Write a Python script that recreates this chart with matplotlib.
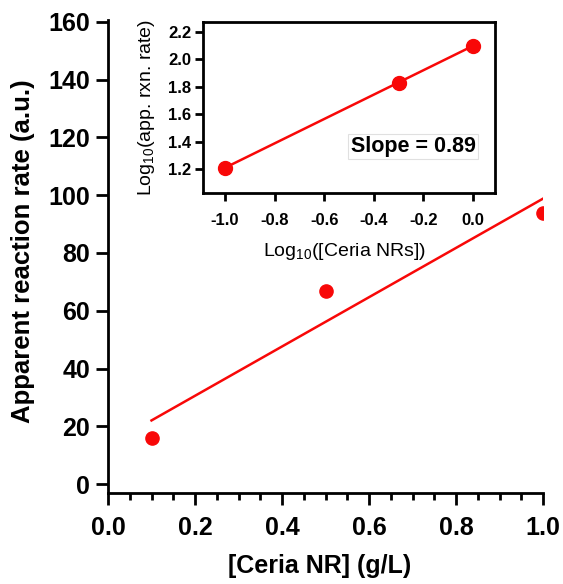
import numpy as np
import matplotlib
matplotlib.use('Agg')
import matplotlib.pyplot as plt
from matplotlib.ticker import MultipleLocator

plt.rcParams['font.family'] = ['Liberation Sans', 'DejaVu Sans']
plt.rcParams['mathtext.fontset'] = 'custom'
plt.rcParams['mathtext.rm'] = 'Liberation Sans'
plt.rcParams['mathtext.it'] = 'Liberation Sans:italic'
plt.rcParams['mathtext.bf'] = 'Liberation Sans:bold'

# Dados do gráfico principal
concentracao = [0.1, 0.5, 1.0]
taxa = [16, 67, 94]

# Dados do gráfico interno (log10)
log_conc = [-1.0, -0.30, 0.0]
log_taxa = [1.21, 1.83, 2.10]
texto_slope = 'Slope = 0.89'

VERMELHO = '#f80808'

fig = plt.figure(figsize=(5.63, 5.84), dpi=100)

# Gráfico principal
ax = fig.add_axes([108 / 563, 1 - 493 / 584, 435 / 563, 472.5 / 584])
ax.plot(concentracao, taxa, 'o', color=VERMELHO, markersize=9.5, zorder=3)
coef = np.polyfit(concentracao, taxa, 1)
xs = np.array([concentracao[0], concentracao[-1]])
ax.plot(xs, np.polyval(coef, xs), color=VERMELHO, lw=1.8)

ax.xaxis.set_minor_locator(MultipleLocator(0.05))
ax.spines['top'].set_visible(False)
ax.spines['right'].set_visible(False)
for s in ['left', 'bottom']:
    ax.spines[s].set_linewidth(2)
ax.tick_params(axis='both', which='major', direction='out', length=8.5, width=2,
               labelsize=18)
ax.tick_params(axis='x', which='major', pad=8)
ax.tick_params(axis='y', which='major', pad=4.5)
ax.tick_params(axis='x', which='minor', direction='out', length=5, width=2)
ax.set_xticks(np.arange(0, 1.01, 0.2))
ax.set_yticks(np.arange(0, 161, 20))
ax.set_xticklabels([f'{v:.1f}' for v in ax.get_xticks()], fontweight='bold')
ax.set_yticklabels([f'{v:.0f}' for v in ax.get_yticks()], fontweight='bold')
ax.set_xlim(0, 1.0)
ax.set_ylim(-3.1, 160.5)

ax.set_xlabel('[Ceria NR] (g/L)', fontsize=18, fontweight='bold')
ax.set_ylabel('Apparent reaction rate (a.u.)', fontsize=18.5, fontweight='bold')
ax.xaxis.label.set_va('center')
ax.yaxis.label.set_va('center')
ax.xaxis.set_label_coords(0.486, -0.155)
ax.yaxis.set_label_coords(-0.195, 0.512)

# Gráfico interno
ins = fig.add_axes([203 / 563, 1 - 193 / 584, 292 / 563, 171 / 584])
coef_log = np.polyfit(log_conc, log_taxa, 1)
xl = np.array([log_conc[0], log_conc[-1]])
ins.plot(xl, np.polyval(coef_log, xl), color=VERMELHO, lw=1.8)
ins.plot(log_conc, log_taxa, 'o', color=VERMELHO, markersize=10, zorder=3)
for s in ins.spines.values():
    s.set_linewidth(2)
ins.tick_params(axis='both', direction='out', length=6, width=2, labelsize=12)
ins.tick_params(axis='x', pad=8.5)
ins.tick_params(axis='y', pad=2.5)
ins.set_xticks(np.arange(-1.0, 0.01, 0.2))
ins.set_yticks(np.arange(1.2, 2.21, 0.2))
ins.set_xticklabels([f'{v:.1f}' if abs(v) > 1e-9 else '0.0' for v in ins.get_xticks()],
                    fontweight='bold')
ins.set_yticklabels([f'{v:.1f}' for v in ins.get_yticks()], fontweight='bold')
ins.set_xlim(-1.089, 0.089)
ins.set_ylim(1.025, 2.273)
ins.set_xlabel('Log$_{10}$([Ceria NRs])', fontsize=14)
ins.set_ylabel('Log$_{10}$(app. rxn. rate)', fontsize=14)
ins.xaxis.label.set_va('center')
ins.yaxis.label.set_va('center')
ins.xaxis.set_label_coords(0.483, -0.345)
ins.yaxis.set_label_coords(-0.192, 0.5)

ins.text(-0.242, 1.365, texto_slope, fontsize=15.5, fontweight='bold',
         ha='center', va='center',
         bbox=dict(boxstyle='square,pad=0.1', facecolor='white',
                   edgecolor='#e0e0e0', linewidth=0.8))

fig.savefig('out.png', dpi=100)
